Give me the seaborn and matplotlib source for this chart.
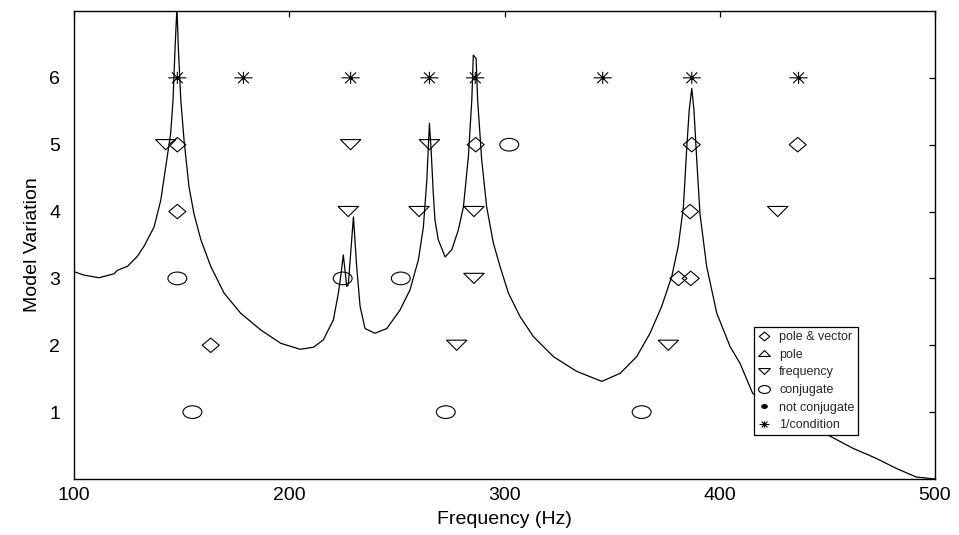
import numpy as np
import pandas as pd
import matplotlib
matplotlib.use("Agg")
import matplotlib.pyplot as plt
from matplotlib.path import Path
from matplotlib.transforms import Affine2D
from matplotlib.lines import Line2D
import seaborn as sns

# ---------------- data ----------------
curve_freq = [100.0, 104.6, 111.6, 118.6, 120.1, 124.8, 129.4, 132.5, 137.2, 140.3,
              142.6, 144.9, 146.0, 146.9, 147.8, 148.5, 149.6, 151.1, 153.4, 155.7,
              158.9, 163.5, 169.7, 177.4, 186.7, 196.0, 205.0, 211.2, 215.8, 220.5,
              222.8, 223.9, 225.1, 226.7, 227.4, 229.8, 231.3, 232.9, 235.2, 239.8,
              245.3, 251.5, 256.1, 260.0, 262.3, 263.9, 265.1, 265.9, 266.9, 267.7,
              269.2, 272.4, 275.5, 278.5, 280.9, 283.2, 284.8, 285.5, 286.8, 287.5,
              289.4, 291.7, 294.8, 297.9, 301.8, 307.2, 313.4, 322.7, 333.5, 345.2,
              353.7, 361.4, 367.6, 373.0, 377.7, 380.7, 383.1, 384.6, 385.8, 387.0,
              388.0, 389.3, 390.8, 393.9, 398.6, 404.8, 409.4, 415.3, 432.6, 450.1,
              461.8, 472.6, 481.9, 491.2, 500.0]
curve_val = [3.10, 3.05, 3.01, 3.07, 3.12, 3.18, 3.33, 3.48, 3.77, 4.17,
             4.67, 5.17, 5.67, 6.42, 7.05, 6.42, 5.67, 5.07, 4.37, 3.97,
             3.58, 3.18, 2.78, 2.48, 2.23, 2.03, 1.94, 1.97, 2.08, 2.38,
             2.78, 3.03, 3.35, 2.88, 2.90, 3.92, 3.18, 2.58, 2.25, 2.18,
             2.25, 2.53, 2.83, 3.28, 3.77, 4.47, 5.32, 4.92, 4.27, 3.87,
             3.58, 3.32, 3.43, 3.72, 4.07, 4.82, 5.67, 6.34, 6.29, 5.67,
             4.77, 4.07, 3.53, 3.18, 2.78, 2.43, 2.13, 1.83, 1.61, 1.46,
             1.58, 1.83, 2.18, 2.58, 3.03, 3.48, 4.07, 4.92, 5.52, 5.84,
             5.52, 4.77, 3.97, 3.18, 2.48, 1.98, 1.73, 1.28, 0.94, 0.66,
             0.46, 0.31, 0.16, 0.03, 0.0]

pv_freq = [148.0, 286.6, 387.0, 436.2, 148.0, 386.2, 380.8, 386.5, 163.5]
pv_var = [5, 5, 5, 5, 4, 4, 3, 3, 2]
freq_freq = [142.6, 228.5, 265.1, 227.4, 260.3, 285.8, 426.9, 285.8, 277.8, 376.1]
freq_var = [5, 5, 5, 4, 4, 4, 4, 3, 2, 2]
conj_freq = [302.2, 148.0, 224.8, 251.8, 155.0, 272.7, 363.7]
conj_var = [5, 3, 3, 3, 1, 1, 1]
cond_freq = [148.0, 178.7, 228.5, 265.1, 286.4, 345.6, 387.0, 436.6]
cond_var = [6, 6, 6, 6, 6, 6, 6, 6]

legend_labels = ["pole & vector", "pole", "frequency", "conjugate",
                 "not conjugate", "1/condition"]
x_ticks = [100, 200, 300, 400, 500]
y_ticks = [1, 2, 3, 4, 5, 6]

# ---------------- style ----------------
sns.set_theme(style="white")
plt.rcParams["font.family"] = ["Liberation Sans", "DejaVu Sans"]

# marker shapes
diamond = Path([(0, 0.85), (1, 0), (0, -0.85), (-1, 0), (0, 0.85)], closed=True)
tri_down = Path([(-1, 0.5), (1, 0.5), (0, -0.5), (-1, 0.5)], closed=True)
tri_up = Path([(-1, -0.5), (1, -0.5), (0, 0.5), (-1, -0.5)], closed=True)
ellipse = Affine2D().scale(1.0, 0.67).transform_path(Path.unit_circle())
star = Path([(-1, 0), (1, 0), (0, -0.67), (0, 0.67),
             (-0.6, -0.6), (0.6, 0.6), (-0.6, 0.6), (0.6, -0.6)],
            [Path.MOVETO, Path.LINETO] * 4)

fig = plt.figure(figsize=(9.59, 5.35), dpi=100)
ax = fig.add_axes([0.0772, 0.1047, 0.8978, 0.8748])

sns.lineplot(x=curve_freq, y=curve_val, sort=False, estimator=None,
             color="black", linewidth=0.9, ax=ax)

common = dict(facecolor="none", edgecolor="black", color="black",
              linewidth=0.8, ax=ax, legend=False, zorder=3)
sns.scatterplot(x=pv_freq, y=pv_var, marker=diamond, s=150, **common)
sns.scatterplot(x=freq_freq, y=freq_var, marker=tri_down, s=215, **common)
sns.scatterplot(x=conj_freq, y=conj_var, marker=ellipse, s=185, **common)
sns.scatterplot(x=cond_freq, y=cond_var, marker=star, s=170, **common)
sns.scatterplot(x=cond_freq, y=cond_var, marker="o", s=5, color="black",
                edgecolor="black", linewidth=0, ax=ax, legend=False, zorder=3)

ax.set_xlim(100, 500)
ax.set_ylim(0, 7)
ax.set_xticks(x_ticks)
ax.set_yticks(y_ticks)
ax.tick_params(direction="in", top=True, right=True, length=4, width=0.9,
               color="black", labelsize=14, labelcolor="black")
ax.tick_params(axis="x", pad=6)
ax.tick_params(axis="y", pad=10)
for sp in ax.spines.values():
    sp.set_color("black")
    sp.set_linewidth(1.0)

ax.set_xlabel("Frequency (Hz)", fontsize=14, color="black", labelpad=5)
ax.set_ylabel("Model Variation", fontsize=14, color="black", labelpad=6)

handles = [
    Line2D([], [], ls="none", marker=diamond, ms=7.5, mfc="none", mec="black", mew=0.8),
    Line2D([], [], ls="none", marker=tri_up, ms=8.5, mfc="none", mec="black", mew=0.8),
    Line2D([], [], ls="none", marker=tri_down, ms=8.5, mfc="none", mec="black", mew=0.8),
    Line2D([], [], ls="none", marker=ellipse, ms=8.5, mfc="none", mec="black", mew=0.8),
    Line2D([], [], ls="none", marker=ellipse, ms=4, mfc="black", mec="black", mew=0.8),
    Line2D([], [], ls="none", marker=star, ms=7, mfc="none", mec="black", mew=0.8),
]
leg = ax.legend(handles, legend_labels, loc="lower left",
                bbox_to_anchor=(0.79, 0.094), borderaxespad=0, fontsize=9,
                handlelength=0.9, handletextpad=0.8, labelspacing=0.45,
                borderpad=0.3, fancybox=False, framealpha=1)
leg.get_frame().set_edgecolor("black")
leg.get_frame().set_linewidth(0.9)

fig.savefig("out.png", dpi=100)
